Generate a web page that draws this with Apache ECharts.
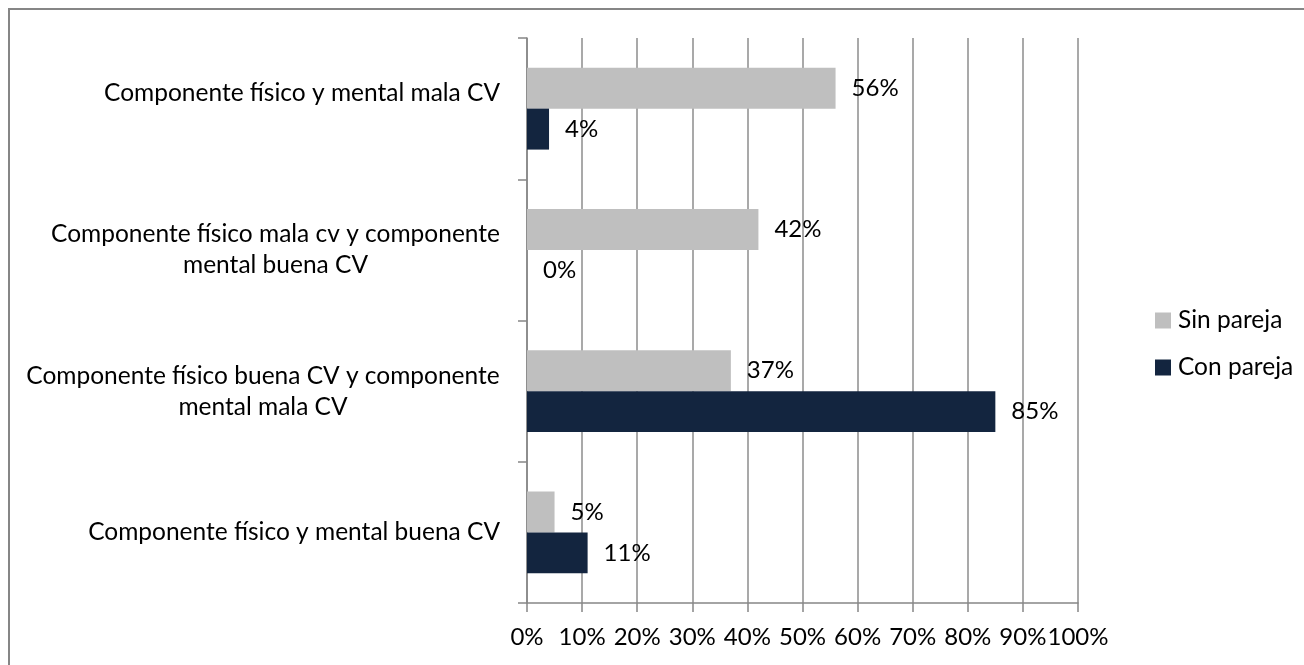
<!DOCTYPE html>
<html>
<head>
<meta charset="utf-8">
<script src="https://cdn.jsdelivr.net/npm/echarts@6/dist/echarts.min.js"></script>
<style>
  html, body { margin: 0; padding: 0; background: #fff; }
  #chart { width: 1304px; height: 665px; }
</style>
</head>
<body>
<div id="chart"></div>
<script>
// Categories, top to bottom (the first label carries a trailing line break)
const categories = [
  'Componente físico y mental mala CV\n',
  'Componente físico mala cv y componente\nmental buena CV',
  'Componente físico buena CV y componente\nmental mala CV',
  'Componente físico y mental buena CV'
];
const seriesNames = ['Sin pareja', 'Con pareja'];
const sinPareja = [56, 42, 37, 5];
const conPareja = [4, 0, 85, 11];
const xTicks = [0, 10, 20, 30, 40, 50, 60, 70, 80, 90, 100];

const FONT = 'Lato';
const CAT_SIZE = 24.5;
const LINE_H = 31;

// Width of the widest line of a multi-line category, so the block is
// right-aligned while each line is centred within it.
function textWidth(str, size) {
  const ctx = document.createElement('canvas').getContext('2d');
  ctx.font = size + 'px ' + FONT;
  return Math.ceil(ctx.measureText(str).width);
}
const rich = {};
categories.forEach((c, i) => {
  const lines = c.split('\n').filter(l => l.length);
  if (lines.length > 1) {
    const w = Math.max.apply(null, lines.map(l => textWidth(l, CAT_SIZE)));
    rich['c' + i] = { width: w, align: 'center', fontSize: CAT_SIZE, lineHeight: LINE_H, color: '#000', fontFamily: FONT };
  }
});

const chart = echarts.init(document.getElementById('chart'), null, { renderer: 'canvas' });

const axisGray = '#868686';
const labelStyle = { show: true, position: 'right', distance: 16, formatter: '{c}%', fontSize: 24, color: '#000', fontFamily: FONT };

chart.setOption({
  animation: false,
  backgroundColor: '#fff',
  textStyle: { fontFamily: FONT },
  graphic: [{
    type: 'rect',
    shape: { x: 9, y: 9, width: 1400, height: 700 },
    style: { fill: 'none', stroke: axisGray, lineWidth: 2 },
    silent: true
  }],
  legend: {
    data: seriesNames,
    orient: 'vertical',
    left: 1150,
    top: 303,
    icon: 'rect',
    itemWidth: 16,
    itemHeight: 16,
    itemGap: 22,
    textStyle: { fontSize: 24.5, color: '#000', fontFamily: FONT, padding: [0, 0, 0, 2] }
  },
  grid: { left: 527, right: 226, top: 38, bottom: 62, containLabel: false },
  xAxis: {
    type: 'value',
    min: xTicks[0],
    max: xTicks[xTicks.length - 1],
    interval: xTicks[1] - xTicks[0],
    axisLine: { show: true, lineStyle: { color: axisGray, width: 1.5 } },
    axisTick: { show: true, length: 9, lineStyle: { color: axisGray, width: 1.5 } },
    splitLine: { show: true, lineStyle: { color: '#8c8c8c', width: 1.5 } },
    axisLabel: { formatter: '{value}%', fontSize: 24, color: '#000', margin: 22, fontFamily: FONT }
  },
  yAxis: {
    type: 'category',
    inverse: true,
    data: categories,
    axisLine: { show: true, lineStyle: { color: axisGray, width: 1.5 } },
    axisTick: { show: true, length: 9, alignWithLabel: false, lineStyle: { color: axisGray, width: 1.5 } },
    splitLine: { show: false },
    axisLabel: {
      margin: 27,
      fontSize: CAT_SIZE,
      lineHeight: LINE_H,
      color: '#000',
      align: 'right',
      fontFamily: FONT,
      formatter: function (val, idx) {
        const lines = val.split('\n');
        if (lines.filter(l => l.length).length < 2) return val;
        return lines.map(l => '{c' + idx + '|' + l + '}').join('\n');
      },
      rich: rich
    }
  },
  series: [
    {
      name: seriesNames[0],
      type: 'bar',
      data: sinPareja,
      barGap: '0%',
      barCategoryGap: '42%',
      itemStyle: { color: '#bfbfbf' },
      label: labelStyle
    },
    {
      name: seriesNames[1],
      type: 'bar',
      data: conPareja,
      barGap: '0%',
      barCategoryGap: '42%',
      itemStyle: { color: '#13253f' },
      label: labelStyle
    }
  ]
});
</script>
</body>
</html>
